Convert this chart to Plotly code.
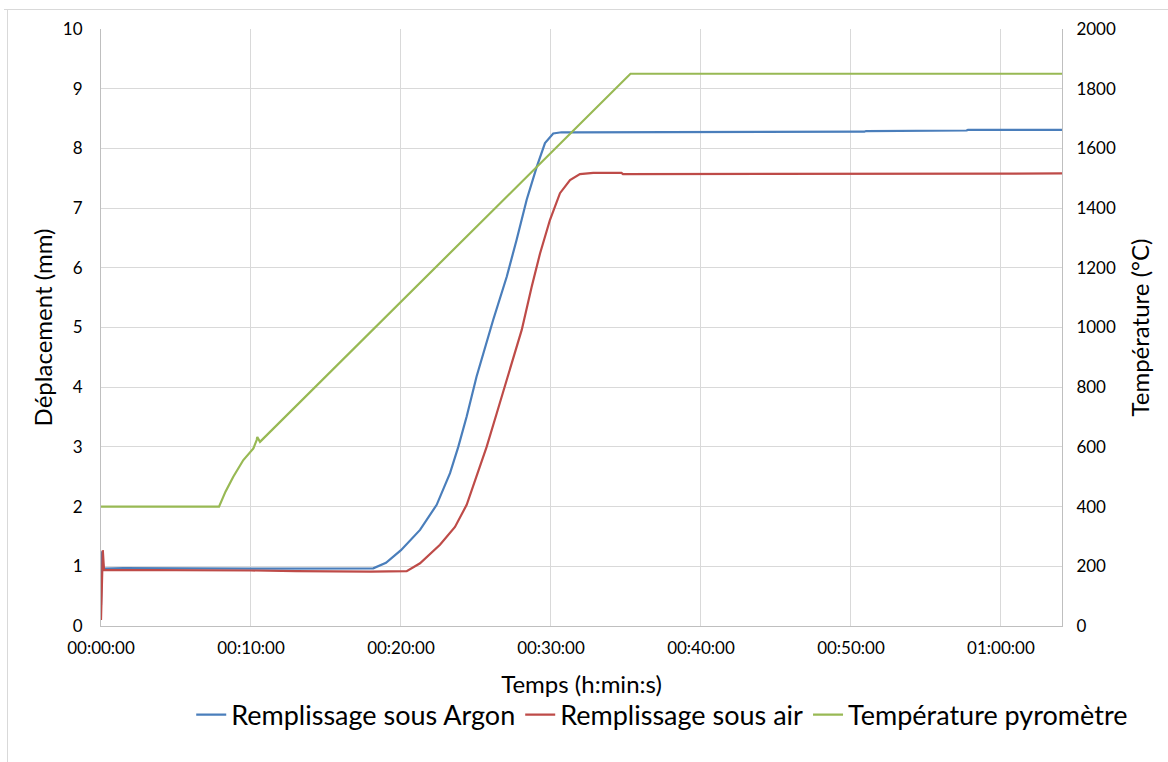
import plotly.graph_objects as go

# Time axis in minutes
tick_minutes = [0, 10, 20, 30, 40, 50, 60]
tick_labels = ["00:00:00", "00:10:00", "00:20:00", "00:30:00", "00:40:00", "00:50:00", "01:00:00"]

# Displacement, filling under argon (mm)
t_argon = [0.0, 0.08, 0.15, 1.5, 10.0, 18.15, 19.0, 20.0, 21.27, 22.38, 23.27, 23.82, 24.38,
           25.04, 26.15, 27.05, 27.71, 28.38, 29.05, 29.6, 30.15, 30.7, 31.5, 45.4, 45.5,
           50.9, 51.0, 53.6, 53.7, 57.7, 57.8, 64.1]
d_argon = [0.35, 1.25, 0.96, 0.97, 0.96, 0.966, 1.06, 1.27, 1.61, 2.03, 2.56, 3.00, 3.51,
           4.18, 5.13, 5.85, 6.47, 7.14, 7.69, 8.09, 8.25, 8.27, 8.27, 8.27, 8.28,
           8.28, 8.29, 8.29, 8.30, 8.30, 8.31, 8.31]

# Displacement, filling under air (mm)
t_air = [0.0, 0.12, 0.2, 5.0, 10.0, 13.0, 16.0, 18.0, 20.38, 21.27, 22.6, 23.6, 24.38, 25.04,
         25.71, 26.38, 27.05, 28.05, 28.71, 29.27, 29.93, 30.6, 31.27, 31.93, 32.82, 34.7,
         34.8, 42.5, 42.6, 64.1]
d_air = [0.1, 1.27, 0.94, 0.94, 0.93, 0.92, 0.91, 0.91, 0.92, 1.05, 1.36, 1.66, 2.03, 2.50,
         3.00, 3.56, 4.12, 4.96, 5.68, 6.24, 6.80, 7.25, 7.47, 7.57, 7.59, 7.59,
         7.57, 7.57, 7.58, 7.58]

# Pyrometer temperature (°C)
t_temp = [0.0, 7.87, 8.3, 8.82, 9.49, 10.16, 10.38, 10.42, 10.6, 35.3, 64.1]
temp = [400, 400, 450, 500, 556, 595, 623, 633, 617, 1850, 1850]

FONT = "Lato, 'Open Sans', sans-serif"
GRID = "#d9d9d9"
AXIS = "#bfbfbf"

fig = go.Figure()
fig.add_trace(go.Scatter(x=t_argon, y=d_argon, mode="lines", name="Remplissage sous Argon",
                         line=dict(color="#4a7ebb", width=2.2)))
fig.add_trace(go.Scatter(x=t_air, y=d_air, mode="lines", name="Remplissage sous air",
                         line=dict(color="#be4b48", width=2.2)))
fig.add_trace(go.Scatter(x=t_temp, y=temp, mode="lines", name="Température pyromètre",
                         line=dict(color="#98b954", width=2.2), yaxis="y2"))

W, H = 1168, 762
L, R, T, B = 101, 106, 29, 136
pw, ph = W - L - R, H - T - B


def px_x(p):
    return (p - L) / pw


def px_y(p):
    return (H - B - p) / ph


fig.update_layout(
    width=W, height=H,
    margin=dict(l=L, r=R, t=T, b=B),
    paper_bgcolor="white", plot_bgcolor="white",
    font=dict(family=FONT, color="#000000"),
    xaxis=dict(
        range=[0, 64.07], tickvals=tick_minutes, ticktext=tick_labels,
        showgrid=True, gridcolor=GRID, gridwidth=1,
        showline=True, linecolor=AXIS, linewidth=1, mirror=False,
        ticks="", zeroline=False, tickfont=dict(size=17), ticklabelstandoff=7,
        title=dict(text="Temps (h:min:s)", font=dict(size=24), standoff=18),
    ),
    yaxis=dict(
        range=[0, 10], dtick=1, showgrid=True, gridcolor=GRID, gridwidth=1,
        showline=True, linecolor=AXIS, linewidth=1, ticks="", zeroline=False,
        tickfont=dict(size=17), ticklabelstandoff=14,
        title=dict(text="Déplacement (mm)", font=dict(size=24), standoff=3),
    ),
    yaxis2=dict(
        range=[0, 2000], dtick=200, overlaying="y", side="right", showgrid=False,
        showline=True, linecolor=AXIS, linewidth=1, ticks="", zeroline=False,
        tickfont=dict(size=17), ticklabelstandoff=10,
        title=dict(text="Température (°C)", font=dict(size=24), standoff=17),
    ),
    legend=dict(
        orientation="h", x=0.584, xanchor="center", y=px_y(715), yanchor="middle",
        font=dict(size=27), itemwidth=30, bgcolor="rgba(0,0,0,0)",
    ),
    shapes=[
        dict(type="line", xref="paper", yref="paper", x0=px_x(4), x1=px_x(1170),
             y0=px_y(9.5), y1=px_y(9.5), line=dict(color=GRID, width=1)),
        dict(type="line", xref="paper", yref="paper", x0=px_x(7.5), x1=px_x(7.5),
             y0=px_y(9.5), y1=px_y(764), line=dict(color=GRID, width=1)),
    ],
)

fig.write_html("out.html")
